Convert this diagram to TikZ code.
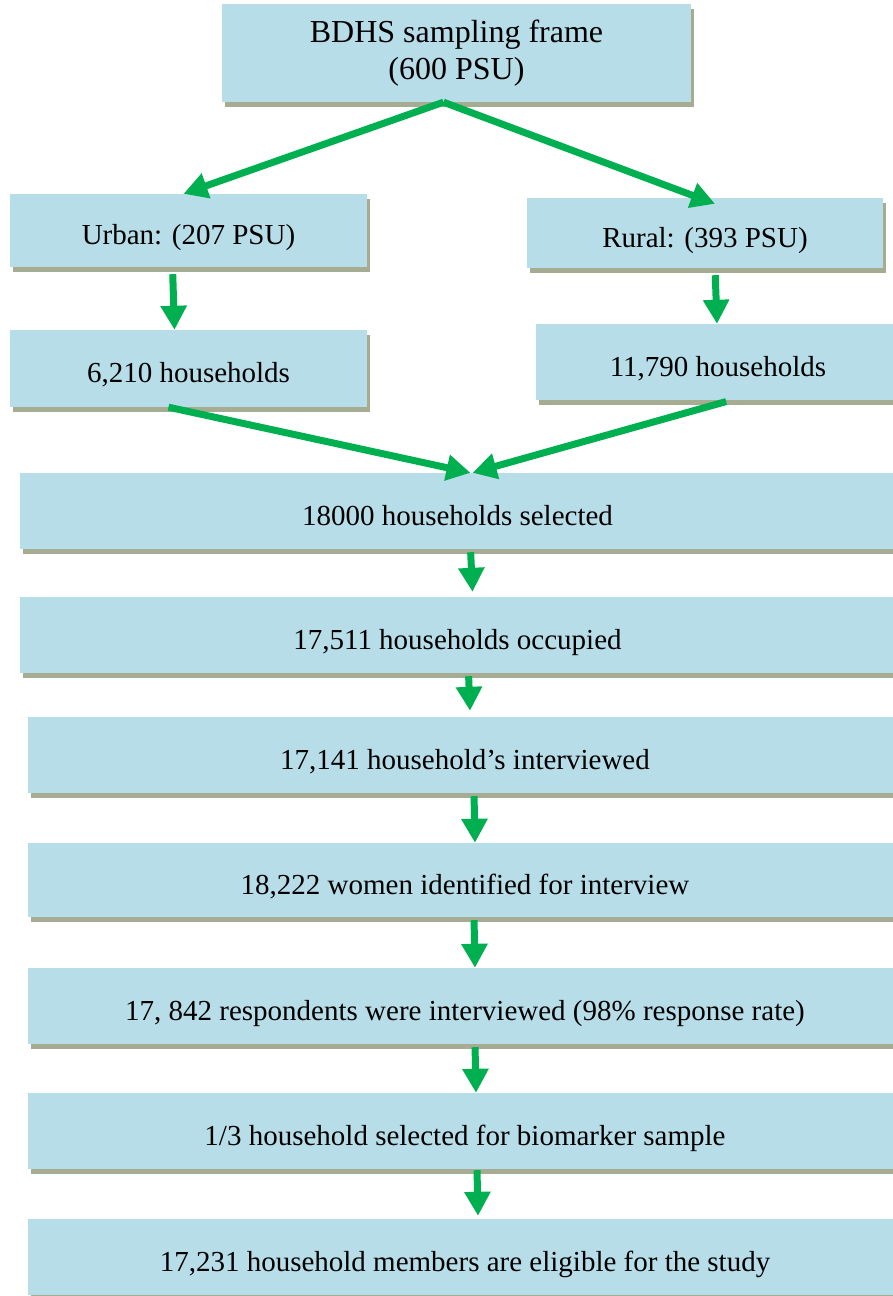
\documentclass[tikz,border=0pt]{standalone}
\usepackage{fontspec}
\setmainfont{Liberation Serif}
\usetikzlibrary{arrows.meta}
\usetikzlibrary{shadows}
\definecolor{boxblue}{RGB}{183,221,232}
\definecolor{shadowolive}{RGB}{165,172,146}
\definecolor{flowgreen}{RGB}{0,176,80}
\tikzstyle{stagebox}=[rectangle,fill=boxblue,inner sep=0pt,font=\fontsize{29}{38}\selectfont,
  drop shadow={shadow xshift=3pt,shadow yshift=-5pt,fill=shadowolive,opacity=1}]
\tikzstyle{oneline}=[text height=34pt,text depth=6pt]
\tikzstyle{flow}=[draw=flowgreen,line width=7pt,-{Triangle[width=25pt,length=24pt]}]

\begin{document}
\begin{tikzpicture}[x=1pt,y=-1pt]
  \useasboundingbox (0,0) rectangle (893,1296);
  % top of the sampling frame
  \node[stagebox,minimum width=469pt,minimum height=98pt,align=center,font=\fontsize{32}{37}\selectfont] (frame) at (456.5,53) {BDHS sampling frame\\(600 PSU)};
  \node[stagebox,oneline,minimum width=357pt,minimum height=73pt] (urban) at (188.5,230.5) {Urban: (207 PSU)};
  \node[stagebox,oneline,minimum width=356pt,minimum height=70pt] (rural) at (705,233) {Rural: (393 PSU)};
  \node[stagebox,oneline,minimum width=357pt,minimum height=77pt] (urbanhh) at (188.5,368.5) {6,210 households};
  \node[stagebox,oneline,minimum width=364pt,minimum height=76pt] (ruralhh) at (718,362) {11,790 households};
  % main chain
  \node[stagebox,oneline,minimum width=875pt,minimum height=76pt] (selected) at (457.5,511) {18000 households selected};
  \node[stagebox,oneline,minimum width=875pt,minimum height=76pt] (occupied) at (457.5,635) {17,511 households occupied};
  \node[stagebox,oneline,minimum width=874pt,minimum height=76pt] (hhint) at (465,755) {17,141 household’s interviewed};
  \node[stagebox,oneline,minimum width=874pt,minimum height=74pt] (women) at (465,880) {18,222 women identified for interview};
  \node[stagebox,oneline,minimum width=874pt,minimum height=76pt] (resp) at (465,1006) {17, 842 respondents were interviewed (98\% response rate)};
  \node[stagebox,oneline,minimum width=874pt,minimum height=76pt] (biomark) at (465,1131) {1/3 household selected for biomarker sample};
  \node[stagebox,oneline,minimum width=874pt,minimum height=76pt] (eligible) at (465,1257) {17,231 household members are eligible for the study};

  \draw[flow] ([xshift=-13pt]frame.south) -- ([xshift=-5pt]urban.north);
  \draw[flow] ([xshift=-13pt]frame.south) -- ([xshift=10pt,yshift=-6pt]rural.north);
  \draw[flow,shorten <=7pt] ([xshift=-16pt]urban.south) -- ([xshift=-14pt]urbanhh.north);
  \draw[flow,shorten <=7pt] ([xshift=10pt]rural.south) -- ([xshift=-1pt]ruralhh.north);
  \draw[flow] ([xshift=-20pt]urbanhh.south) -- ([xshift=13pt]selected.north);
  \draw[flow,shorten <=5pt] ([xshift=13pt]ruralhh.south) -- ([xshift=15pt]selected.north);
  \draw[flow,shorten <=3pt] ([xshift=13pt]selected.south) -- ([xshift=15pt,yshift=5pt]occupied.north);
  \draw[flow,shorten <=3pt] ([xshift=11pt]occupied.south) -- ([xshift=5pt,yshift=6pt]hhint.north);
  \draw[flow,shorten <=3pt] ([xshift=9pt]hhint.south) -- ([xshift=10pt]women.north);
  \draw[flow,shorten <=3pt] ([xshift=9pt]women.south) -- ([xshift=10pt]resp.north);
  \draw[flow,shorten <=3pt] ([xshift=10pt]resp.south) -- ([xshift=11pt]biomark.north);
  \draw[flow,shorten <=1pt] ([xshift=12pt]biomark.south) -- ([xshift=13pt,yshift=3pt]eligible.north);
\end{tikzpicture}
\end{document}
